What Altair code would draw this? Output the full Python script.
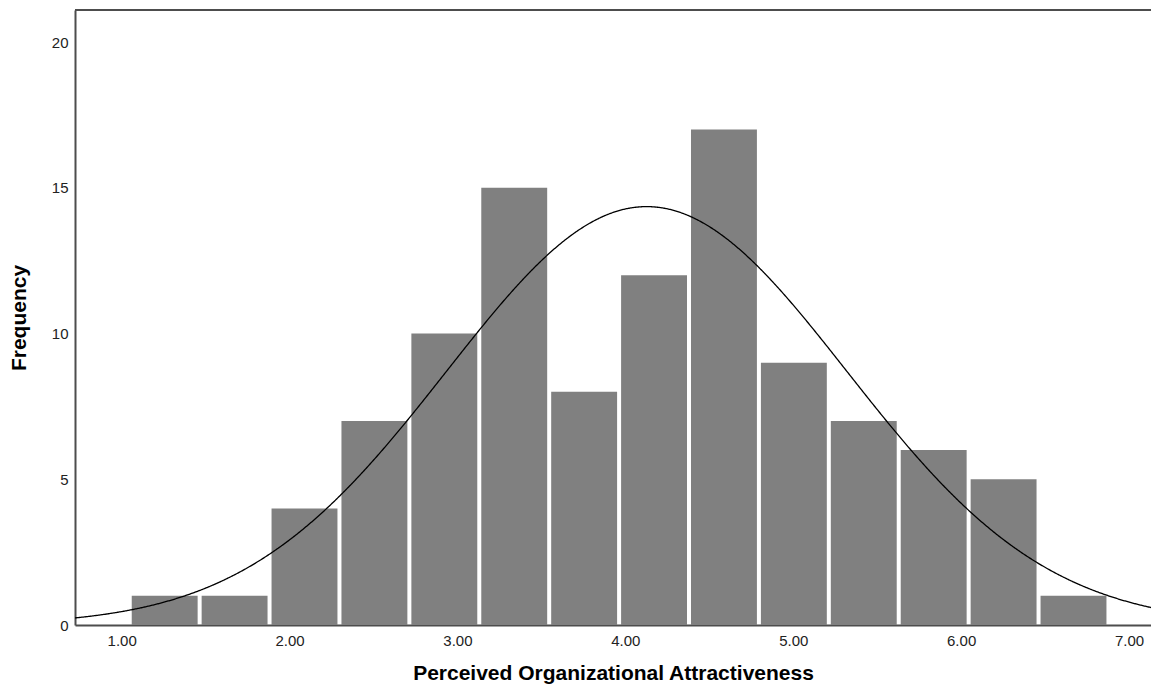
import altair as alt
import pandas as pd

# ---- data ----
counts = [1, 1, 4, 7, 10, 15, 8, 12, 17, 9, 7, 6, 5, 1]
bin_start = 1.048          # left edge of first bin
bin_width = 0.4164         # width of each bin
curve_mean = 4.127         # mean of fitted normal curve
curve_sd = 1.192           # std. dev. of fitted normal curve
n_total = sum(counts)
x_ticks = [1, 2, 3, 4, 5, 6, 7]
y_ticks = [0, 5, 10, 15, 20]
x_domain = [0.722, 7.131]
y_domain = [0, 21.1]

x_title = "Perceived Organizational Attractiveness"
y_title = "Frequency"

bins = pd.DataFrame({
    "x0": [bin_start + i * bin_width for i in range(len(counts))],
    "x1": [bin_start + (i + 1) * bin_width for i in range(len(counts))],
    "count": counts,
})

W, H = 1076, 615

xscale = alt.Scale(domain=x_domain, nice=False, zero=False)
yscale = alt.Scale(domain=y_domain, nice=False, zero=True)

xaxis = alt.Axis(values=x_ticks, format=".2f", title=x_title, ticks=False,
                 grid=False, labelPadding=8, titlePadding=14)
yaxis = alt.Axis(values=y_ticks, format="d", title=y_title, ticks=False,
                 grid=False, labelPadding=7, titlePadding=22)

bars = alt.Chart(bins).mark_bar(
    color="#808080", xOffset=2, x2Offset=-2, clip=True
).encode(
    x=alt.X("x0:Q", scale=xscale, axis=xaxis),
    x2="x1:Q",
    y=alt.Y("count:Q", scale=yscale, axis=yaxis),
    y2=alt.datum(0),
)

curve = alt.Chart(alt.sequence(x_domain[0], x_domain[1] + 0.005, 0.005, as_="x")).transform_calculate(
    y=f"{n_total} * {bin_width} / ({curve_sd} * sqrt(2 * PI)) * exp(-0.5 * pow((datum.x - {curve_mean}) / {curve_sd}, 2))"
).mark_line(color="black", strokeWidth=1.3, clip=True).encode(
    x=alt.X("x:Q", scale=xscale),
    y=alt.Y("y:Q", scale=yscale),
)

top_border = alt.Chart(bins).mark_rule(color="#4d4d4d", strokeWidth=2).encode(
    x=alt.value(0), x2=alt.value(W), y=alt.value(0)
)

chart = alt.layer(bars, curve, top_border).properties(
    width=W, height=H,
    autosize=alt.AutoSizeParams(type="none"),
    padding={"left": 67, "top": 2, "right": 0, "bottom": 60},
).configure(
    font="Liberation Sans",
).configure_view(
    stroke=None,
).configure_axis(
    domainColor="#4d4d4d",
    domainWidth=2,
    labelFont="Liberation Sans",
    labelFontSize=15,
    labelColor="#222222",
    titleFont="Liberation Sans",
    titleFontSize=21,
    titleFontWeight="bold",
    titleColor="#000000",
)

chart.save("out.html", embed_options={"renderer": "svg", "actions": False})
